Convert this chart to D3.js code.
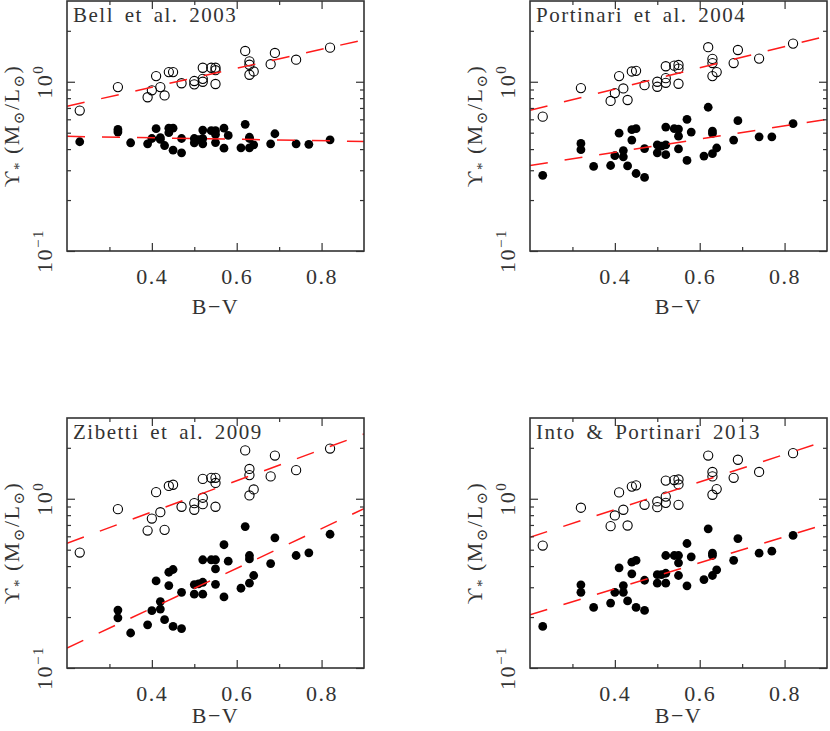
<!DOCTYPE html>
<html>
<head>
<meta charset="utf-8">
<script src="https://cdn.jsdelivr.net/npm/d3@7"></script>
<style>
  body { margin: 0; background: #fff; }
  svg { display: block; }
  text { font-family: "Liberation Serif", "DejaVu Serif", serif; fill: #333; }
</style>
</head>
<body>
<script>
// B-V colours of the galaxies (filled points)
const bvAll = [0.23, 0.32, 0.32, 0.35, 0.39, 0.40, 0.41, 0.42, 0.42, 0.43,
  0.44, 0.44, 0.45, 0.45, 0.47, 0.47, 0.50, 0.50, 0.51, 0.52,
  0.52, 0.52, 0.54, 0.55, 0.55, 0.55, 0.57, 0.57, 0.58, 0.61,
  0.62, 0.63, 0.63, 0.63, 0.64, 0.68, 0.69, 0.74, 0.77, 0.82];
// B-V colours of the subset with open points
const bvOpen = [0.23, 0.32, 0.39, 0.40, 0.41, 0.42, 0.43, 0.44, 0.45, 0.47,
  0.50, 0.50, 0.52, 0.52, 0.52, 0.54, 0.55, 0.55, 0.55, 0.62,
  0.63, 0.63, 0.63, 0.64, 0.68, 0.69, 0.74, 0.82];

const titles = ["Bell et al. 2003", "Portinari et al. 2004", "Zibetti et al. 2009", "Into & Portinari 2013"];

const bellFilled = [0.442, 0.523, 0.504, 0.436, 0.430, 0.462, 0.528, 0.467, 0.456, 0.420,
  0.532, 0.500, 0.532, 0.394, 0.462, 0.380, 0.462, 0.436, 0.455, 0.518,
  0.462, 0.430, 0.514, 0.514, 0.488, 0.437, 0.532, 0.405, 0.482, 0.407,
  0.560, 0.470, 0.462, 0.407, 0.424, 0.430, 0.493, 0.430, 0.427, 0.454];
const portinariFilled = [0.280, 0.432, 0.397, 0.316, 0.320, 0.366, 0.497, 0.392, 0.360, 0.318,
  0.521, 0.452, 0.528, 0.287, 0.403, 0.272, 0.424, 0.380, 0.416, 0.540,
  0.424, 0.371, 0.528, 0.525, 0.477, 0.401, 0.600, 0.343, 0.504, 0.364,
  0.707, 0.511, 0.495, 0.376, 0.406, 0.452, 0.589, 0.473, 0.473, 0.565];
const zibettiFilled = [null, 0.220, 0.198, 0.161, 0.180, 0.218, 0.327, 0.247, 0.223, 0.193,
  0.368, 0.307, 0.382, 0.176, 0.280, 0.171, 0.311, 0.273, 0.314, 0.436,
  0.321, 0.273, 0.436, 0.436, 0.385, 0.312, 0.535, 0.263, 0.428, 0.296,
  0.685, 0.462, 0.441, 0.317, 0.352, 0.414, 0.588, 0.462, 0.479, 0.617];
const intoFilled = [0.176, 0.310, 0.280, 0.228, 0.242, 0.280, 0.391, 0.307, 0.280, 0.249,
  0.422, 0.360, 0.432, 0.228, 0.330, 0.219, 0.356, 0.317, 0.356, 0.462,
  0.363, 0.317, 0.462, 0.462, 0.418, 0.352, 0.544, 0.306, 0.454, 0.333,
  0.664, 0.477, 0.462, 0.352, 0.380, 0.433, 0.582, 0.477, 0.490, 0.607];

const bellOpen = [0.676, 0.93, 0.81, 0.89, 1.08, 0.93, 0.83, 1.14, 1.14, 0.98,
  0.965, 1.01, 1.21, 1.04, 1.0, 1.21, 1.21, 1.17, 0.97, 1.52,
  1.32, 1.26, 1.10, 1.15, 1.27, 1.48, 1.35, 1.59];
const portinariOpen = [0.622, 0.917, 0.77, 0.857, 1.08, 0.913, 0.78, 1.15, 1.16, 0.955,
  1.0, 0.934, 1.235, 1.05, 0.986, 1.245, 1.257, 1.195, 0.973, 1.60,
  1.365, 1.29, 1.08, 1.14, 1.29, 1.54, 1.37, 1.68];
const zibettiOpen = [0.481, 0.868, 0.649, 0.764, 1.094, 0.833, 0.655, 1.19, 1.21, 0.897,
  0.942, 0.861, 1.31, 1.014, 0.929, 1.33, 1.33, 1.24, 0.897, 1.93,
  1.50, 1.38, 1.046, 1.135, 1.355, 1.80, 1.476, 1.98];
const intoOpen = [0.529, 0.885, 0.689, 0.797, 1.09, 0.861, 0.695, 1.18, 1.20, 0.921,
  0.964, 0.892, 1.28, 1.03, 0.946, 1.29, 1.30, 1.215, 0.921, 1.80,
  1.44, 1.355, 1.056, 1.14, 1.33, 1.70, 1.44, 1.86];

// log10(M/L) = a + b*(B-V)
const fitOpen = [[-0.257, 0.561], [-0.294, 0.627], [-0.447, 0.922], [-0.390, 0.815]];
const fitFilled = [[-0.314, -0.043], [-0.572, 0.389], [-1.117, 1.176], [-0.839, 0.768]];

const xTicks = [0.4, 0.6, 0.8];
const xMinor = [0.3, 0.5, 0.7];
const yTicks = [0.1, 1];
const yMinor = [0.2, 0.3, 0.4, 0.5, 0.6, 0.7, 0.8, 0.9, 2];

const filledSets = [bellFilled, portinariFilled, zibettiFilled, intoFilled];
const openSets = [bellOpen, portinariOpen, zibettiOpen, intoOpen];

const W = 830, H = 731;
const pw = 297, ph = 250;
const lefts = [67, 530], tops = [1, 418];

const svg = d3.select("body").append("svg").attr("width", W).attr("height", H);

titles.forEach((title, i) => {
  const row = Math.floor(i / 2);
  const left = lefts[i % 2], top = tops[row];
  const g = svg.append("g").attr("transform", `translate(${left},${top})`);

  const x = d3.scaleLinear().domain([0.2, 0.9]).range([0, pw]);
  const y = d3.scaleLog().domain([0.1, 3]).range([ph, 0]);

  g.append("clipPath").attr("id", "clip" + i)
    .append("rect").attr("width", pw).attr("height", ph);

  const plot = g.append("g").attr("clip-path", `url(#clip${i})`);

  // filled points
  plot.selectAll("circle.filled")
    .data(bvAll.map((b, k) => [b, filledSets[i][k]]).filter(d => d[1] != null))
    .join("circle")
    .attr("class", "filled")
    .attr("cx", d => x(d[0]))
    .attr("cy", d => y(d[1]))
    .attr("r", 4.4)
    .attr("fill", "#000");

  // open points
  plot.selectAll("circle.open")
    .data(bvOpen.map((b, k) => [b, openSets[i][k]]))
    .join("circle")
    .attr("class", "open")
    .attr("cx", d => x(d[0]))
    .attr("cy", d => y(d[1]))
    .attr("r", 4.6)
    .attr("fill", "none")
    .attr("stroke", "#000")
    .attr("stroke-width", 1.1);

  // dashed fits
  [fitOpen[i], fitFilled[i]].forEach(([a, b]) => {
    plot.append("path")
      .datum(x.domain())
      .attr("d", d3.line().x(d => x(d)).y(d => y(Math.pow(10, a + b * d))))
      .attr("fill", "none")
      .attr("stroke", "#ff1a1a")
      .attr("stroke-width", 1.5)
      .attr("stroke-dasharray", "18,17");
  });

  // ticks, pointing inwards on all four sides
  const tickStyle = sel => {
    sel.select(".domain").remove();
    sel.selectAll(".tick line").attr("stroke", "#333").attr("stroke-width", 1.2);
  };
  g.append("g").attr("transform", `translate(0,${ph})`)
    .call(d3.axisBottom(x).tickValues(xTicks).tickSize(-8).tickPadding(17).tickFormat(d3.format(".1f")))
    .call(tickStyle)
    .call(s => s.selectAll("text").attr("font-size", 22).attr("font-family", null).attr("fill", "#333").attr("letter-spacing", 1.5));
  g.append("g").attr("transform", `translate(0,${ph})`)
    .call(d3.axisBottom(x).tickValues(xMinor).tickSize(-4).tickFormat(""))
    .call(tickStyle);
  g.append("g")
    .call(d3.axisTop(x).tickValues(xTicks).tickSize(-8).tickFormat(""))
    .call(tickStyle);
  g.append("g")
    .call(d3.axisTop(x).tickValues(xMinor).tickSize(-4).tickFormat(""))
    .call(tickStyle);
  g.append("g")
    .call(d3.axisLeft(y).tickValues(yTicks).tickSize(-8).tickFormat(""))
    .call(tickStyle);
  g.append("g")
    .call(d3.axisLeft(y).tickValues(yMinor).tickSize(-4).tickFormat(""))
    .call(tickStyle);
  g.append("g").attr("transform", `translate(${pw},0)`)
    .call(d3.axisRight(y).tickValues(yTicks).tickSize(-8).tickFormat(""))
    .call(tickStyle);
  g.append("g").attr("transform", `translate(${pw},0)`)
    .call(d3.axisRight(y).tickValues(yMinor).tickSize(-4).tickFormat(""))
    .call(tickStyle);

  // frame
  g.append("rect")
    .attr("width", pw).attr("height", ph)
    .attr("fill", "none").attr("stroke", "#333").attr("stroke-width", 1.6);

  // y tick labels, rotated
  yTicks.forEach(v => {
    const t = g.append("text")
      .attr("transform", `translate(-15,${y(v)}) rotate(-90)`)
      .attr("text-anchor", "middle")
      .attr("font-size", 22)
      .attr("letter-spacing", 1.5);
    t.append("tspan").text("10");
    t.append("tspan").attr("dy", -9).attr("font-size", 15).text(v < 1 ? "\u22121" : "0");
  });

  // y axis title
  const yl = g.append("text")
    .attr("transform", `translate(-48,${ph / 2}) rotate(-90)`)
    .attr("text-anchor", "middle")
    .attr("font-size", 22)
    .attr("letter-spacing", 1.5);
  yl.append("tspan").text("\u03D2");
  yl.append("tspan").attr("dy", 5).attr("font-size", 15).text("*");
  yl.append("tspan").attr("dy", -5).text(" (M");
  yl.append("tspan").attr("dy", 5).attr("font-size", 15).text("\u2299");
  yl.append("tspan").attr("dy", -5).text("/L");
  yl.append("tspan").attr("dy", 5).attr("font-size", 15).text("\u2299");
  yl.append("tspan").attr("dy", -5).text(")");

  // x axis title (bottom row nudged up to stay inside the page)
  g.append("text")
    .attr("x", pw / 2).attr("y", ph + (row ? 55 : 63))
    .attr("text-anchor", "middle")
    .attr("font-size", 22)
    .attr("letter-spacing", 1.5)
    .text("B\u2212V");

  // panel title
  g.append("text")
    .attr("x", 6).attr("y", 21)
    .attr("font-size", 21)
    .attr("letter-spacing", 1.5)
    .attr("word-spacing", 4)
    .text(title);
});
</script>
</body>
</html>
